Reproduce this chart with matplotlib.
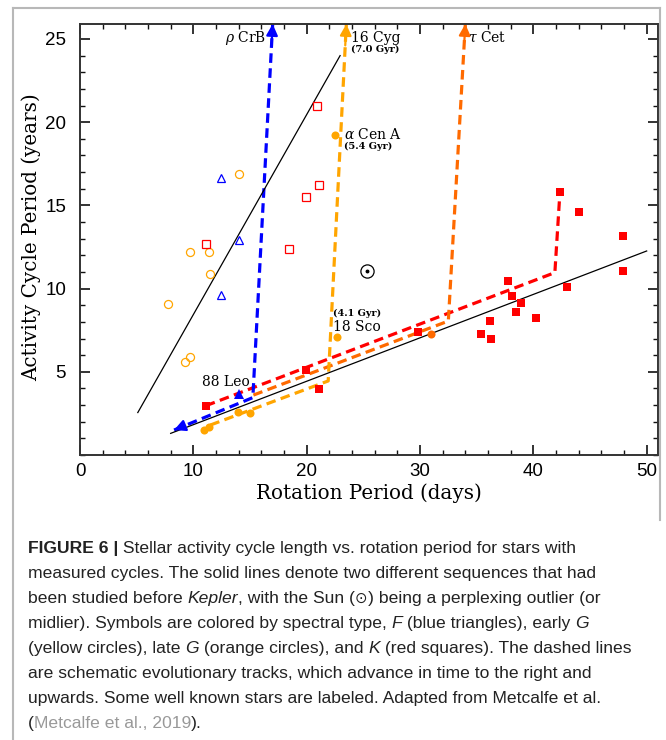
import matplotlib
matplotlib.use("Agg")
import matplotlib.pyplot as plt
from matplotlib import font_manager
from matplotlib.font_manager import FontProperties
from matplotlib.lines import Line2D
from matplotlib.ticker import MultipleLocator, FixedLocator

# ---- values (rotation period in days, cycle period in years) ----
# F stars, blue triangles
f_open_rot = [12.4, 14.0, 12.4]
f_open_cyc = [16.65, 12.9, 9.6]
f_fill_rot = [14.0]
f_fill_cyc = [3.67]

# early G stars, yellow circles
g_open_rot = [14.0, 9.7, 11.4, 11.45, 7.75, 9.7, 9.25]
g_open_cyc = [16.9, 12.2, 12.2, 10.9, 9.1, 5.9, 5.6]
g_fill_rot = [10.9, 11.35, 13.95, 15.0, 22.65, 22.5]
g_fill_cyc = [1.5, 1.66, 2.56, 2.5, 7.1, 19.2]

# late G stars, orange circles
lg_fill_rot = [31.0]
lg_fill_cyc = [7.3]

# K stars, red squares
k_open_rot = [20.95, 21.05, 19.9, 11.1, 18.45]
k_open_cyc = [21.0, 16.2, 15.5, 12.7, 12.4]
k_fill_rot = [11.1, 19.95, 21.05, 29.8, 35.4, 36.15, 36.3, 37.8, 38.15, 38.45,
              38.9, 40.2, 42.35, 42.95, 44.0, 47.95, 47.95]
k_fill_cyc = [2.96, 5.13, 3.98, 7.41, 7.29, 8.07, 6.99, 10.48, 9.58, 8.61,
              9.15, 8.21, 15.82, 10.12, 14.62, 13.16, 11.08]

# the Sun
sun_rot = [25.3]
sun_cyc = [11.08]

# the two pre-Kepler sequences (solid lines)
active_rot = [5.1, 22.95]
active_cyc = [2.55, 24.0]
inactive_rot = [8.0, 50.0]
inactive_cyc = [1.3, 12.26]

# schematic evolutionary tracks (dashed)
track_f_rot = [8.3, 15.25, 17.0]
track_f_cyc = [1.5, 3.45, 25.9]
track_g_rot = [11.5, 21.9, 23.5]
track_g_cyc = [1.8, 4.45, 25.9]
track_lg_rot = [15.3, 32.5, 34.0]
track_lg_cyc = [3.6, 8.05, 25.9]
track_k_rot = [11.1, 41.9, 42.35]
track_k_cyc = [2.96, 10.96, 15.82]

x_ticks = [0, 10, 20, 30, 40, 50]
y_ticks = [5, 10, 15, 20, 25]

BLUE = "#0000ff"
YELLOW = "#ffa500"
ORANGE = "#ff6a00"
RED = "#ff0000"

W, H = 666, 740
plt.rcParams["mathtext.fontset"] = "dejavuserif"

fig = plt.figure(figsize=(W / 100, H / 100), dpi=100)
ax = fig.add_axes([80 / W, 1 - 455 / H, 578 / W, 431 / H])
ax.set_xlim(0, 51.0)
ax.set_ylim(0, 25.9)


def arrow_head(x0, y0, x1, y1, color, t):
    ax.annotate("", xy=(x1, y1), xytext=(x1 - (x1 - x0) * t, y1 - (y1 - y0) * t),
                arrowprops=dict(arrowstyle="-|>,head_length=0.75,head_width=0.38",
                                color=color, lw=1.6, shrinkA=0, shrinkB=0,
                                mutation_scale=9),
                annotation_clip=False, zorder=4)


def track(xs, ys, color, head=True, tail=False):
    ax.plot(xs, ys, color=color, lw=2.3, dashes=(3.0, 1.7),
            dash_capstyle="butt", zorder=2)
    if head:
        arrow_head(xs[-2], ys[-2], xs[-1], ys[-1], color, 0.06)
    if tail:
        arrow_head(xs[1], ys[1], xs[0], ys[0], color, 0.12)


track(track_k_rot, track_k_cyc, RED, head=False)
track(track_lg_rot, track_lg_cyc, ORANGE)
track(track_g_rot, track_g_cyc, YELLOW)
track(track_f_rot, track_f_cyc, BLUE, tail=True)

ax.plot(active_rot, active_cyc, color="black", lw=0.9, zorder=3)
ax.plot(inactive_rot, inactive_cyc, color="black", lw=0.9, zorder=3)

# open symbols
ax.plot(f_open_rot, f_open_cyc, "^", ms=6, mfc="none", mec=BLUE, mew=0.9, zorder=5)
ax.plot(g_open_rot, g_open_cyc, "o", ms=5.8, mfc="none", mec=YELLOW, mew=0.9, zorder=5)
ax.plot(k_open_rot, k_open_cyc, "s", ms=5.2, mfc="none", mec=RED, mew=0.9, zorder=5)
# filled symbols
ax.plot(f_fill_rot, f_fill_cyc, "^", ms=6.5, color=BLUE, mew=0, zorder=5)
ax.plot(g_fill_rot, g_fill_cyc, "o", ms=5.8, color=YELLOW, mew=0, zorder=5)
ax.plot(lg_fill_rot, lg_fill_cyc, "o", ms=5.8, color=ORANGE, mew=0, zorder=5)
ax.plot(k_fill_rot, k_fill_cyc, "s", ms=5.5, color=RED, mew=0, zorder=5)
# the Sun
ax.plot(sun_rot, sun_cyc, "o", ms=9.5, mfc="none", mec="black", mew=0.9, zorder=5)
ax.plot(sun_rot, sun_cyc, "o", ms=1.8, color="black", zorder=5)

# star labels
lab = dict(fontsize=10, family="DejaVu Serif", va="baseline", zorder=6)
gyr = dict(fontsize=7, family="DejaVu Serif", weight="bold", va="baseline", zorder=6)
ax.text(16.45, 24.84, r"$\rho$ CrB", ha="right", **lab)
ax.text(23.95, 24.84, "16 Cyg", ha="left", **lab)
ax.text(23.9, 24.2, "(7.0 Gyr)", ha="left", **gyr)
ax.text(34.25, 24.84, r"$\tau$ Cet", ha="left", **lab)
ax.text(23.3, 18.99, r"$\alpha$ Cen A", ha="left", **lab)
ax.text(23.3, 18.38, "(5.4 Gyr)", ha="left", **gyr)
ax.text(22.35, 8.33, "(4.1 Gyr)", ha="left", **gyr)
ax.text(22.35, 7.47, "18 Sco", ha="left", **lab)
ax.text(10.8, 4.17, "88 Leo", ha="left", **lab)

# axes styling
ax.xaxis.set_major_locator(FixedLocator(x_ticks))
ax.xaxis.set_minor_locator(MultipleLocator(2))
ax.yaxis.set_major_locator(FixedLocator(y_ticks))
ax.yaxis.set_minor_locator(MultipleLocator(1))
ax.tick_params(which="both", direction="in", top=True, right=True, color="#111")
ax.tick_params(which="major", length=7, width=1.2, labelsize=13.5)
ax.tick_params(which="minor", length=3.5, width=1.0)
ax.tick_params(axis="x", pad=6)
ax.tick_params(axis="y", pad=10)
for lbl in ax.get_xticklabels() + ax.get_yticklabels():
    lbl.set_family("Liberation Sans")
for sp in ax.spines.values():
    sp.set_linewidth(1.4)
    sp.set_color("#333")

ax.set_xlabel("Rotation Period (days)", family="DejaVu Serif", fontsize=14.3)
ax.set_ylabel("Activity Cycle Period (years)", family="DejaVu Serif", fontsize=14.3)
ax.xaxis.set_label_coords(0.5, -0.066)
ax.yaxis.set_label_coords(-0.068, 0.505)

# frame around the figure box
frame = "#b8b8b8"
for xs, ys in [([13, 13], [8, 740]), ([13, 660], [8, 8]), ([660, 660], [8, 520])]:
    fig.add_artist(Line2D([x / W for x in xs], [1 - y / H for y in ys],
                          color=frame, lw=1.5, transform=fig.transFigure))

# ---- caption ----
names = {f.name for f in font_manager.fontManager.ttflist}
cap_family = "Liberation Sans Narrow" if "Liberation Sans Narrow" in names else "Liberation Sans"

caption = [
    [("FIGURE 6 |", "B"), (" Stellar activity cycle length vs. rotation period for stars with", "R")],
    [("measured cycles. The solid lines denote two different sequences that had", "R")],
    [("been studied before ", "R"), ("Kepler", "I"), (", with the Sun (", "R"), ("\u2299", "S"),
     (") being a perplexing outlier (or", "R")],
    [("midlier). Symbols are colored by spectral type, ", "R"), ("F", "I"),
     (" (blue triangles), early ", "R"), ("G", "I")],
    [("(yellow circles), late ", "R"), ("G", "I"), (" (orange circles), and ", "R"), ("K", "I"),
     (" (red squares). The dashed lines", "R")],
    [("are schematic evolutionary tracks, which advance in time to the right and", "R")],
    [("upwards. Some well known stars are labeled. Adapted from Metcalfe et al.", "R")],
    [("(", "R"), ("Metcalfe et al., 2019", "L"), (").", "R")],
]

renderer = fig.canvas.get_renderer()


def props(kind, size):
    if kind == "B":
        return FontProperties(family=cap_family, size=size, weight="bold")
    if kind == "I":
        return FontProperties(family=cap_family, size=size, style="italic")
    if kind == "S":
        return FontProperties(family="DejaVu Sans", size=size * 0.85)
    return FontProperties(family=cap_family, size=size)


def width(s, prop):
    w1 = renderer.get_text_width_height_descent("x" + s + "x", prop, ismath=False)[0]
    w2 = renderer.get_text_width_height_descent("xx", prop, ismath=False)[0]
    return w1 - w2


# fit the caption size so that the first line spans the same width as in the figure
w10 = sum(width(s, props(k, 10)) for s, k in caption[0])
cap_size = 10 * 551 / w10

y = 553
for line in caption:
    x = 28
    for s, k in line:
        p = props(k, cap_size)
        color = "#999999" if k == "L" else "#222222"
        fig.text(x / W, 1 - y / H, s, fontproperties=p, color=color,
                 ha="left", va="baseline")
        x += width(s, p)
    y += 25

fig.savefig("out.png", dpi=100)
